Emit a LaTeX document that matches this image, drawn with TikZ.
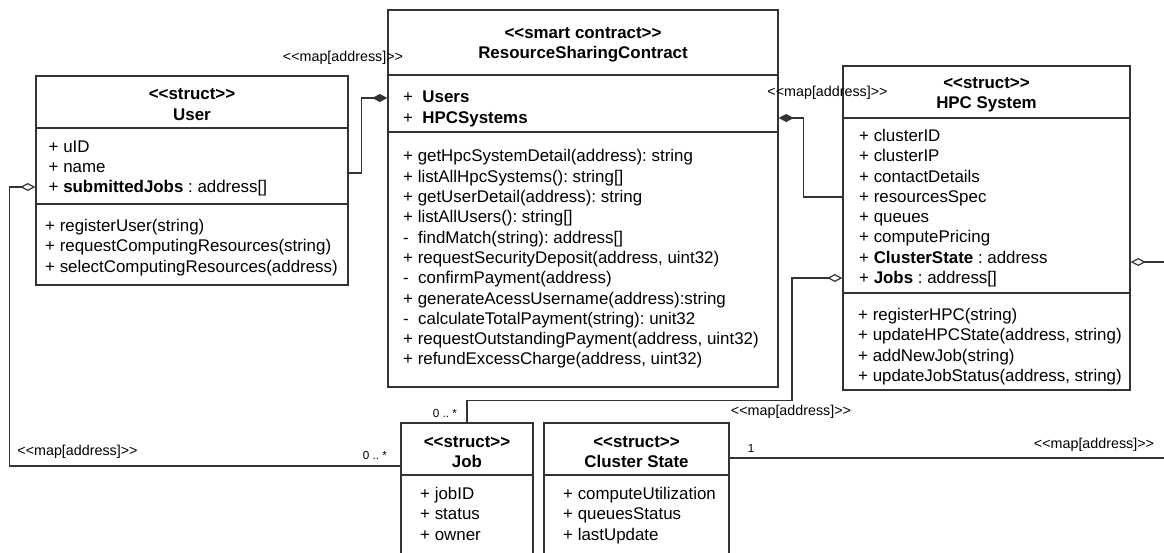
\documentclass[tikz,border=0pt]{standalone}
\usepackage{fontspec}
\newfontfamily\umlfont{Liberation Sans}
\usetikzlibrary{arrows.meta}
\frenchspacing

\tikzset{
    cls/.style={draw=black!80, line width=1.4pt, fill=white, inner sep=0pt},
    divider/.style={draw=black!80, line width=1.4pt},
    hdr/.style={align=center, inner sep=0pt, font=\umlfont\fontsize{16.9}{20.5}\selectfont\bfseries},
    members/.style={anchor=north west, align=left, inner sep=0pt, font=\umlfont\fontsize{16.9}{20.3}\selectfont},
    rel/.style={draw=black!80, line width=1.2pt},
    comp/.style={rel, -{Diamond[length=15pt, width=8pt]}},
    aggr/.style={rel, -{Diamond[open, length=15pt, width=8pt]}},
    maplbl/.style={inner sep=0pt, font=\umlfont\fontsize{14.3}{16}\selectfont},
    mult/.style={inner sep=0pt, font=\umlfont\fontsize{11.7}{13}\selectfont}
}

\begin{document}
\begin{tikzpicture}[x=1pt, y=-1pt]
        \useasboundingbox (0,0) rectangle (1164,552);
        \clip (0,0) rectangle (1164,552);
        %%Smart contract
        \node[cls, minimum width=390pt, minimum height=377pt] (contract) at (583,198.5) {};
        \draw[divider] (contract.west |- 0,75) -- (contract.east |- 0,75);
        \draw[divider] (contract.west |- 0,132) -- (contract.east |- 0,132);
        \node[hdr] (contractHead) at (583,45) {<<smart contract>>\\ResourceSharingContract};
        \node[members] (contractAttr) at (403,91) {+\ \ \textbf{Users}\\+\ \ \textbf{HPCSystems}};
        \node[members] (contractOps) at (403,149.5) {+ getHpcSystemDetail(address): string\\
            + listAllHpcSystems(): string[]\\+ getUserDetail(address): string\\
            + listAllUsers(): string[]\\-\ \ findMatch(string): address[]\\
            + requestSecurityDeposit(address, uint32)\\-\ \ confirmPayment(address)\\
            + generateAcessUsername(address):string\\-\ \ calculateTotalPayment(string): unit32\\
            + requestOutstandingPayment(address, uint32)\\+ refundExcessCharge(address, uint32)};
        %%User
        \node[cls, minimum width=312pt, minimum height=209pt] (user) at (192,180.5) {};
        \draw[divider] (user.west |- 0,128) -- (user.east |- 0,128);
        \draw[divider] (user.west |- 0,204) -- (user.east |- 0,204);
        \node[hdr] (userHead) at (192,104.5) {<<struct>>\\User};
        \node[members] (userAttr) at (48.5,140.5) {+ uID\\+ name\\+ \textbf{submittedJobs} : address[]};
        \node[members] (userOps) at (45,219) {+ registerUser(string)\\
            + requestComputingResources(string)\\+ selectComputingResources(address)};
        %%HPC system
        \node[cls, minimum width=287pt, minimum height=324pt] (hpc) at (986.5,228) {};
        \draw[divider] (hpc.west |- 0,118) -- (hpc.east |- 0,118);
        \draw[divider] (hpc.west |- 0,293) -- (hpc.east |- 0,293);
        \node[hdr] (hpcHead) at (986.5,94.5) {<<struct>>\\HPC System};
        \node[members] (hpcAttr) at (859,129) {+ clusterID\\+ clusterIP\\+ contactDetails\\
            + resourcesSpec\\+ queues\\+ computePricing\\
            + \textbf{ClusterState} : address\\+ \textbf{Jobs} : address[]};
        \node[members] (hpcOps) at (858,308) {+ registerHPC(string)\\+ updateHPCState(address, string)\\
            + addNewJob(string)\\+ updateJobStatus(address, string)};
        %%Job and cluster state
        \node[cls, minimum width=132pt, minimum height=137pt] (job) at (467,491.5) {};
        \draw[divider] (job.west |- 0,475) -- (job.east |- 0,475);
        \node[hdr] (jobHead) at (467,452) {<<struct>>\\Job};
        \node[members] (jobAttr) at (420,487) {+ jobID\\+ status\\+ owner};
        \node[cls, minimum width=185pt, minimum height=137pt] (cluster) at (636.5,491.5) {};
        \draw[divider] (cluster.west |- 0,475) -- (cluster.east |- 0,475);
        \node[hdr] (clusterHead) at (636.5,452) {<<struct>>\\Cluster State};
        \node[members] (clusterAttr) at (563,487) {+ computeUtilization\\+ queuesStatus\\+ lastUpdate};
        %%Relations
        \draw[comp] ([yshift=7.5pt]user.east) -- ++(13,0) |- ([yshift=100.5pt]contract.west);
        \node[maplbl] (mapUsers) at (343,58) {<<map[address]>>};
        \draw[comp] ([yshift=31pt]hpc.west) -- ++(-39,0) |- ([yshift=80.5pt]contract.east);
        \node[maplbl] (mapHpc) at (827.5,93) {<<map[address]>>};
        \draw[aggr] ([yshift=25.5pt]job.west) -- ++(-391,0) |- ([yshift=-6.5pt]user.west);
        \node[maplbl] (mapSubmitted) at (77.5,452) {<<map[address]>>};
        \node[mult] (multSubmitted) at (375,455) {0 .. *};
        \draw[aggr] (job.north) -- ++(0,-22) -- ++(325,0) |- ([yshift=-50pt]hpc.west);
        \node[maplbl] (mapJobs) at (791,412) {<<map[address]>>};
        \node[mult] (multJobs) at (445,413) {0 .. *};
        \draw[aggr] ([yshift=33.5pt]cluster.east) -- ++(446,0) |- ([yshift=-34pt]hpc.east);
        \node[mult] (multState) at (751,448) {1};
        \node[maplbl] (mapState) at (1094,445) {<<map[address]>>};
\end{tikzpicture}
\end{document}
